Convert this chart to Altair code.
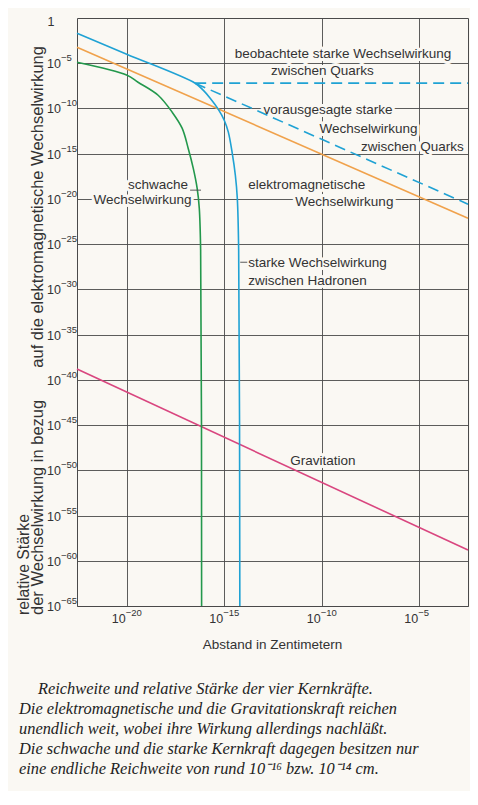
import altair as alt
import pandas as pd

# ---------------- data (log10 values) ----------------
em_x = [-22.55, -2.5]
em_y = [-3.23, -22.13]

grav_x = [-22.55, -2.5]
grav_y = [-38.81, -58.82]

weak_x = [-22.55, -19.98, -19.42, -18.39, -17.67, -17.16, -16.85, -16.59, -16.39, -16.28, -16.21, -16.16]
weak_y = [-4.89, -6.33, -7.10, -8.54, -10.41, -12.18, -14.39, -16.60, -18.81, -21.02, -25.66, -65.0]

strong_x = [-22.55, -20.0, -16.49, -16.08, -15.72, -15.31, -15.00, -14.79, -14.59, -14.43, -14.33, -14.26, -14.20]
strong_y = [-1.69, -4.0, -7.21, -7.98, -8.87, -10.08, -11.30, -12.62, -14.94, -17.38, -19.92, -25.66, -65.0]

quark_obs_x = [-16.49, -2.5]
quark_obs_y = [-7.2, -7.2]

quark_pred_x = [-16.49, -2.5]
quark_pred_y = [-7.21, -20.58]

x_ticks = [-20, -15, -10, -5]
y_ticks = [-5, -10, -15, -20, -25, -30, -35, -40, -45, -50, -55, -60, -65]

labels_left = [
    ("elektromagnetische", -13.77, -18.48),
    ("starke Wechselwirkung", -13.77, -27.1),
    ("zwischen Hadronen", -13.77, -29.09),
    ("schwache", -19.93, -18.48),
]
labels_center = [
    ("beobachtete starke Wechselwirkung", -8.91, -4.01),
    ("zwischen Quarks", -9.97, -5.88),
    ("vorausgesagte starke", -9.68, -10.19),
    ("Wechselwirkung", -8.84, -20.36),
    ("Wechselwirkung", -19.19, -20.14),
    ("Gravitation", -9.94, -48.98),
]
labels_right = [
    ("Wechselwirkung", -5.09, -12.3),
    ("zwischen Quarks", -2.72, -14.28),
]
leaders = [
    (-16.75, -16.19, -19.03),
    (-14.18, -13.82, -27.0),
]

y_title_1 = "relative Stärke"
y_title_2 = ("der Wechselwirkung in bezug" + "\u00a0" * 7 +
             "auf die elektromagnetische Wechselwirkung")
x_title = "Abstand in Zentimetern"
caption_first = "Reichweite und relative Stärke der vier Kernkräfte."
caption_rest = ("Die elektromagnetische und die Gravitationskraft reichen\n"
                "unendlich weit, wobei ihre Wirkung allerdings nachläßt.\n"
                "Die schwache und die starke Kernkraft dagegen besitzen nur\n"
                "eine endliche Reichweite von rund 10\u207b\u00b9\u2076 bzw. 10\u207b\u00b9\u2074 cm.")

# ---------------- tables ----------------
def series(name, xs, ys):
    return pd.DataFrame({"series": name, "x": [10.0 ** v for v in xs], "y": [10.0 ** v for v in ys]})

solid = pd.concat([
    series("em", em_x, em_y),
    series("grav", grav_x, grav_y),
    series("weak", weak_x, weak_y),
    series("strong", strong_x, strong_y),
])
dashed = pd.concat([
    series("obs", quark_obs_x, quark_obs_y),
    series("pred", quark_pred_x, quark_pred_y),
])

def lab_df(rows):
    return pd.DataFrame({"text": [r[0] for r in rows],
                         "x": [10.0 ** r[1] for r in rows],
                         "y": [10.0 ** r[2] for r in rows]})

lead_df = pd.DataFrame({"x": [10.0 ** r[0] for r in leaders],
                        "x2": [10.0 ** r[1] for r in leaders],
                        "y": [10.0 ** r[2] for r in leaders]})

xt_df = pd.DataFrame({"v": [10.0 ** e for e in x_ticks], "e": ["\u2212" + str(-e) for e in x_ticks]})
yt_df = pd.DataFrame({"v": [10.0 ** e for e in y_ticks], "e": ["\u2212" + str(-e) for e in y_ticks]})
one_df = pd.DataFrame({"v": [1.0]})

# ---------------- styling ----------------
BG = "#faf8f3"
GRID = "#4a4a4a"
TXT = "#333333"
SANS = "Liberation Sans"
W, H = 391, 588

xscale = alt.Scale(type="log", domain=[10 ** -22.55, 10 ** -2.5], nice=False)
yscale = alt.Scale(type="log", domain=[1e-65, 1.0], nice=False)
xaxis = alt.Axis(values=[10.0 ** e for e in x_ticks], grid=True, labels=False, ticks=False,
                 domain=False, title=None, gridColor=GRID, gridWidth=0.9, gridOpacity=1)
yaxis = alt.Axis(values=[10.0 ** e for e in y_ticks], grid=True, labels=False, ticks=False,
                 domain=False, title=None, gridColor=GRID, gridWidth=0.9, gridOpacity=1)

def X(f="x"):
    return alt.X(f"{f}:Q", scale=xscale, axis=xaxis)

def Y(f="y"):
    return alt.Y(f"{f}:Q", scale=yscale, axis=yaxis)

colors = alt.Scale(domain=["em", "grav", "weak", "strong", "obs", "pred"],
                   range=["#f0a24c", "#d9467f", "#23984c", "#1fa2d4", "#1fa2d4", "#1fa2d4"])

layers = []

# halos (hide gridlines behind labels)
for rows, al in ((labels_left, "left"), (labels_center, "center"), (labels_right, "right")):
    layers.append(alt.Chart(lab_df(rows)).mark_text(
        align=al, baseline="middle", font=SANS, fontSize=13.5, color=BG,
        stroke=BG, strokeWidth=6, strokeJoin="round").encode(x=X(), y=Y(), text="text:N"))

layers.append(alt.Chart(solid).mark_line(strokeWidth=1.6, interpolate="catmull-rom").encode(
    x=X(), y=Y(), color=alt.Color("series:N", scale=colors, legend=None), detail="series:N"))
layers.append(alt.Chart(dashed).mark_line(strokeWidth=1.6, strokeDash=[11, 6]).encode(
    x=X(), y=Y(), color=alt.Color("series:N", scale=colors, legend=None), detail="series:N"))

layers.append(alt.Chart(lead_df).mark_rule(color=GRID, strokeWidth=0.9).encode(
    x=X(), x2="x2:Q", y=Y()))

for rows, al in ((labels_left, "left"), (labels_center, "center"), (labels_right, "right")):
    layers.append(alt.Chart(lab_df(rows)).mark_text(
        align=al, baseline="middle", font=SANS, fontSize=13.5, color=TXT).encode(
        x=X(), y=Y(), text="text:N"))

# tick labels
layers.append(alt.Chart(yt_df).mark_text(align="left", baseline="middle", font=SANS,
                                         fontSize=12.5, color=TXT, dy=1).encode(
    x=alt.value(-30), y=Y("v"), text=alt.value("10")))
layers.append(alt.Chart(yt_df).mark_text(align="left", baseline="middle", font=SANS,
                                         fontSize=9.5, color=TXT, dy=-5).encode(
    x=alt.value(-16), y=Y("v"), text="e:N"))
layers.append(alt.Chart(one_df).mark_text(align="center", baseline="middle", font=SANS,
                                          fontSize=12.5, color=TXT, dy=4).encode(
    x=alt.value(-26), y=Y("v"), text=alt.value("1")))
layers.append(alt.Chart(xt_df).mark_text(align="right", baseline="middle", font=SANS,
                                         fontSize=12.5, color=TXT, dx=-1).encode(
    x=X("v"), y=alt.value(H + 13), text=alt.value("10")))
layers.append(alt.Chart(xt_df).mark_text(align="left", baseline="middle", font=SANS,
                                         fontSize=9.5, color=TXT, dx=-1).encode(
    x=X("v"), y=alt.value(H + 7), text="e:N"))

# axis titles and caption
layers.append(alt.Chart(one_df).mark_text(
    angle=270, align="left", baseline="alphabetic",
    font=SANS, fontSize=15.8, color=TXT).encode(
    x=alt.value(-48), y=alt.value(H + 9), text=alt.value(y_title_1)))
layers.append(alt.Chart(one_df).mark_text(
    angle=270, align="left", baseline="alphabetic",
    font=SANS, fontSize=16.5, color=TXT).encode(
    x=alt.value(-34), y=alt.value(H + 9), text=alt.value(y_title_2)))
layers.append(alt.Chart(one_df).mark_text(
    align="center", baseline="middle", font=SANS, fontSize=13.5, color=TXT).encode(
    x=alt.value(W / 2), y=alt.value(H + 39), text=alt.value(x_title)))
layers.append(alt.Chart(one_df).mark_text(
    align="left", baseline="alphabetic",
    font="Liberation Serif", fontStyle="italic", fontSize=16.4, color="#222222").encode(
    x=alt.value(-39), y=alt.value(H + 88), text=alt.value(caption_first)))
layers.append(alt.Chart(one_df).mark_text(
    align="left", baseline="alphabetic", lineBreak="\n", lineHeight=20,
    font="Liberation Serif", fontStyle="italic", fontSize=16.4, color="#222222").encode(
    x=alt.value(-58), y=alt.value(H + 108), text=alt.value(caption_rest)))

chart = alt.layer(*layers).properties(
    width=W, height=H,
    autosize=alt.AutoSizeParams(type="none"),
    padding={"left": 69, "top": 10, "right": 2, "bottom": 185},
).configure(background=BG).configure_view(stroke=GRID, strokeWidth=1, fill=BG)

chart.save("out.html", embed_options={"renderer": "svg", "actions": False})
